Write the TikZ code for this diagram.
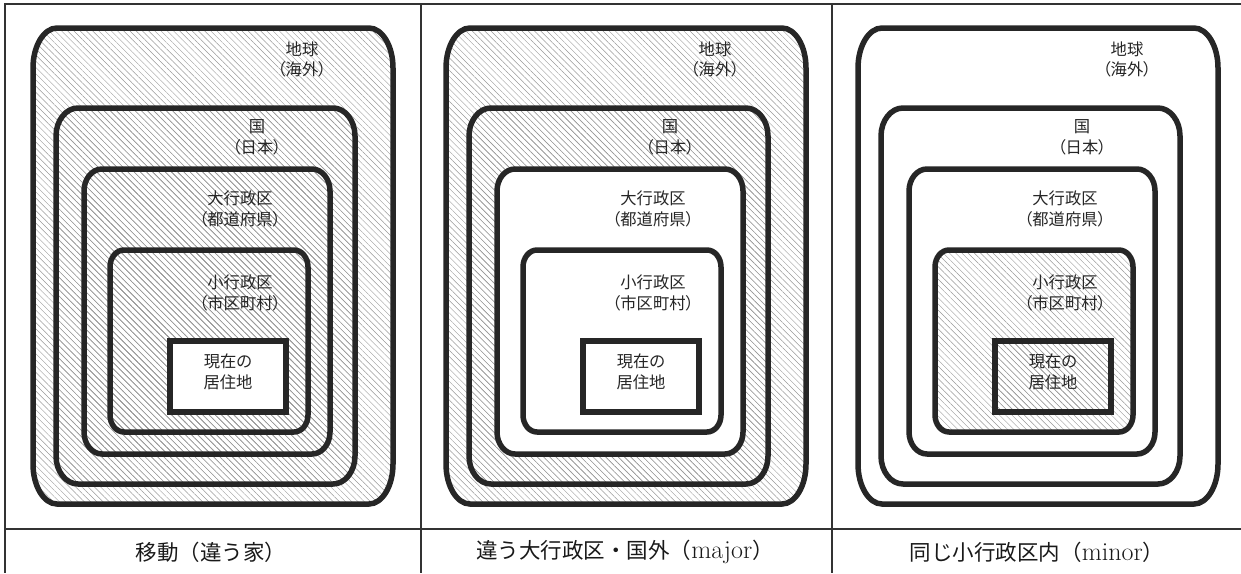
\documentclass[tikz,border=0pt]{standalone}
\usepackage{fontspec}
\newfontfamily\jplbl[RawFeature=+palt]{Noto Sans CJK JP}
\newfontfamily\jpcap{Noto Sans CJK JP}
\usetikzlibrary{patterns.meta}
\def\rr#1#2#3#4#5#6{(#1+#5,#2) -- (#3-#5,#2) .. controls (#3-0.45*#5,#2) and (#3,#2+0.45*#6) .. (#3,#2+#6) -- (#3,#4-#6) .. controls (#3,#4-0.45*#6) and (#3-0.45*#5,#4) .. (#3-#5,#4) -- (#1+#5,#4) .. controls (#1+0.45*#5,#4) and (#1,#4-0.45*#6) .. (#1,#4-#6) -- (#1,#2+#6) .. controls (#1,#2+0.45*#6) and (#1+0.45*#5,#2) .. (#1+#5,#2) -- cycle}
\newcommand\lat[1]{{\normalfont\fontsize{26}{26}\selectfont #1}}
\tikzset{
  hatch/.style={pattern={Lines[angle=-45,distance=4.4pt,line width=0.45pt]},pattern color=black!40},
  blank/.style={fill=white},
  ring/.style={draw=black!85,line width=5.5pt},
  home/.style={draw=black!85,line width=6pt},
  lbl/.style={font=\jplbl\fontsize{16.3}{20.5}\selectfont,align=center,inner sep=0pt,text=black!85},
  captxt/.style={font=\jpcap\fontsize{21.5}{26}\selectfont,inner sep=0pt,text=black!90},
  frame/.style={draw=black!80,line width=1.1pt}
}
\newcommand\drawpanel[6]{%
  \path[#1] \rr{33}{28}{393}{504}{24}{40};
  \path[#2] \rr{56}{108}{355}{484}{22}{28};
  \path[#3] \rr{84}{169}{330}{454}{18}{22};
  \path[#4] \rr{110}{250}{308}{432}{14}{17};
  \path[#5] (170,341) rectangle (286,412);
  \path[ring] \rr{33}{28}{393}{504}{24}{40};
  \path[ring] \rr{56}{108}{355}{484}{22}{28};
  \path[ring] \rr{84}{169}{330}{454}{18}{22};
  \path[ring] \rr{110}{250}{308}{432}{14}{17};
  \path[home] (170,341) rectangle (286,412);
  \node[lbl] (earth#6) at (302,59.5) {地球\\（海外）};
  \node[lbl] (country#6) at (257,137.5) {国\\（日本）};
  \node[lbl] (pref#6) at (240,209) {大行政区\\（都道府県）};
  \node[lbl] (muni#6) at (240,293) {小行政区\\（市区町村）};
  \node[lbl] (home#6) at (228,372) {現在の\\居住地};
}
\begin{document}
\begin{tikzpicture}[x=1pt,y=-1pt]
\useasboundingbox (0,0) rectangle (1241,573);
\begin{scope}
\drawpanel{hatch}{hatch}{hatch}{hatch}{blank}{A}
\end{scope}
\begin{scope}[xshift=413pt]
\drawpanel{hatch}{hatch}{blank}{blank}{blank}{B}
\end{scope}
\begin{scope}[xshift=825pt]
\drawpanel{blank}{blank}{blank}{hatch}{hatch}{C}
\end{scope}
% frame
\coordinate (tl) at (5,4);
\coordinate (tr) at (1241,4);
\coordinate (bl) at (5,573);
\coordinate (s1t) at (421,4);
\coordinate (s1b) at (421,573);
\coordinate (s2t) at (832,4);
\coordinate (s2b) at (832,573);
\coordinate (hl) at (5,529);
\coordinate (hr) at (1241,529);
\draw[frame] (tr) -- (tl) -- (bl);
\draw[frame] (s1t) -- (s1b);
\draw[frame] (s2t) -- (s2b);
\draw[frame] (hl) -- (hr);
% captions
\node[captxt] (capA) at (211,552) {移動（違う家）};
\node[captxt] (capB) at (625,552) {違う大行政区・国外（\lat{major}）};
\node[captxt] (capC) at (1037,552) {同じ小行政区内（\lat{minor}）};
\end{tikzpicture}
\end{document}
